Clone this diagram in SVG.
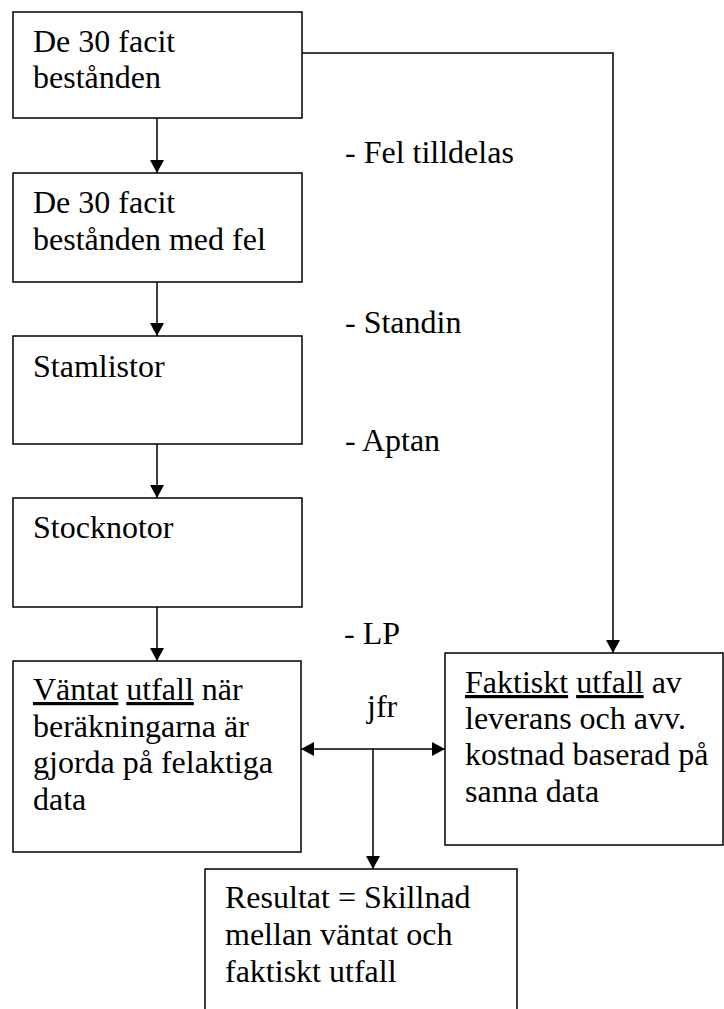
<svg xmlns="http://www.w3.org/2000/svg" width="724" height="1009" viewBox="0 0 724 1009">
<style>
.box{fill:#fff;stroke:#000;stroke-width:1.5}
.c{fill:none;stroke:#000;stroke-width:1.5}
</style>
<defs>
<marker id="ah" markerUnits="userSpaceOnUse" markerWidth="14" markerHeight="14" refX="13" refY="7" orient="auto-start-reverse">
<path d="M0,0 L13,7 L0,14 z" fill="#000"/>
</marker>
</defs>
<g id="connectors">
<line class="c" x1="157" y1="118" x2="157" y2="173" marker-end="url(#ah)"/>
<line class="c" x1="157" y1="282" x2="157" y2="336" marker-end="url(#ah)"/>
<line class="c" x1="157" y1="444" x2="157" y2="498" marker-end="url(#ah)"/>
<line class="c" x1="157" y1="607" x2="157" y2="661" marker-end="url(#ah)"/>
<path class="c" d="M302,53 H613 V653" marker-end="url(#ah)"/>
<line class="c" x1="301" y1="749" x2="445" y2="749" marker-start="url(#ah)" marker-end="url(#ah)"/>
<line class="c" x1="373" y1="749" x2="373" y2="869" marker-end="url(#ah)"/>
</g>
<g id="labels" font-family="Liberation Serif" font-size="32">
<text x="345" y="163">- Fel tilldelas</text>
<text x="345" y="333">- Standin</text>
<text x="345" y="451">- Aptan</text>
<text x="344" y="644">- LP</text>
<text x="367" y="717">jfr</text>
</g>
<g id="n1" font-family="Liberation Serif" font-size="32">
<rect class="box" x="13" y="12" width="289" height="106"/>
<text x="33" y="52">De 30 facit</text>
<text x="33" y="88">bestånden</text>
</g>
<g id="n2" font-family="Liberation Serif" font-size="32">
<rect class="box" x="13" y="173" width="289" height="109"/>
<text x="33" y="213">De 30 facit</text>
<text x="33" y="250">bestånden med fel</text>
</g>
<g id="n3" font-family="Liberation Serif" font-size="32">
<rect class="box" x="13" y="336" width="289" height="108"/>
<text x="33" y="377">Stamlistor</text>
</g>
<g id="n4" font-family="Liberation Serif" font-size="32">
<rect class="box" x="13" y="498" width="289" height="109"/>
<text x="33" y="538">Stocknotor</text>
</g>
<g id="n5" font-family="Liberation Serif" font-size="32">
<rect class="box" x="13" y="661" width="288" height="191"/>
<text x="33" y="700"><tspan text-decoration="underline">Väntat</tspan> <tspan text-decoration="underline">utfall</tspan> när</text>
<text x="33" y="737">beräkningarna är</text>
<text x="33" y="773">gjorda på felaktiga</text>
<text x="33" y="810">data</text>
</g>
<g id="n6" font-family="Liberation Serif" font-size="32">
<rect class="box" x="445" y="653" width="278" height="192"/>
<text x="465" y="693"><tspan text-decoration="underline">Faktiskt</tspan> <tspan text-decoration="underline">utfall</tspan> av</text>
<text x="465" y="729">leverans och avv.</text>
<text x="465" y="765">kostnad baserad på</text>
<text x="465" y="802">sanna data</text>
</g>
<g id="n7" font-family="Liberation Serif" font-size="32">
<path class="box" d="M205,1012 V869 H517 V1012"/>
<text x="225" y="908">Resultat = Skillnad</text>
<text x="225" y="945">mellan väntat och</text>
<text x="225" y="982">faktiskt utfall</text>
</g>
</svg>
